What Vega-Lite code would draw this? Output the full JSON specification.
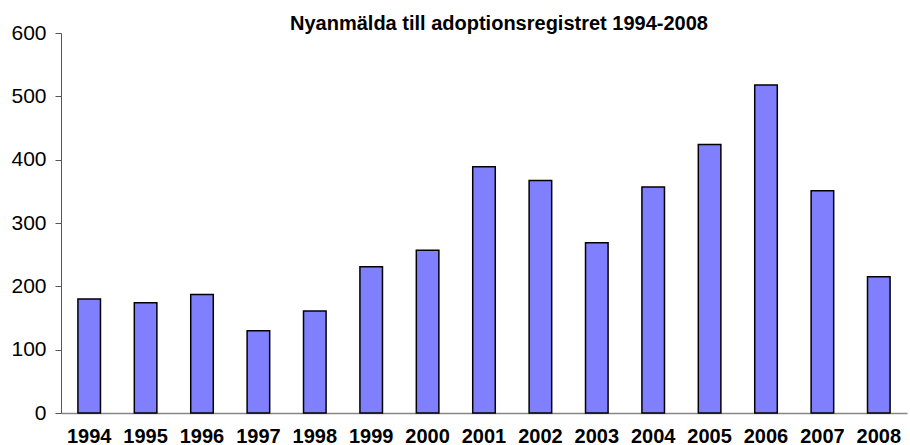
{
  "$schema": "https://vega.github.io/schema/vega-lite/v6.json",
  "width": 846,
  "height": 380,
  "autosize": "none",
  "padding": {"left": 61, "top": 33, "right": 3, "bottom": 32},
  "background": "white",
  "title": {
    "text": "Nyanmälda till adoptionsregistret 1994-2008",
    "font": "Liberation Sans",
    "fontSize": 20,
    "fontWeight": "bold",
    "color": "black",
    "anchor": "middle",
    "baseline": "alphabetic",
    "offset": -28,
    "dx": 15
  },
  "data": {
    "values": [
      {"year": "1994", "count": 180},
      {"year": "1995", "count": 174},
      {"year": "1996", "count": 187},
      {"year": "1997", "count": 130},
      {"year": "1998", "count": 161},
      {"year": "1999", "count": 231},
      {"year": "2000", "count": 257},
      {"year": "2001", "count": 389},
      {"year": "2002", "count": 367},
      {"year": "2003", "count": 269},
      {"year": "2004", "count": 357},
      {"year": "2005", "count": 424},
      {"year": "2006", "count": 518},
      {"year": "2007", "count": 351},
      {"year": "2008", "count": 215}
    ]
  },
  "mark": {"type": "bar", "fill": "#8080FF", "stroke": "black", "strokeWidth": 1.5},
  "encoding": {
    "x": {
      "field": "year",
      "type": "ordinal",
      "sort": null,
      "scale": {"paddingInner": 0.6, "paddingOuter": 0.3},
      "axis": {
        "title": null,
        "labelAngle": 0,
        "labelFont": "Liberation Sans",
        "labelFontSize": 20,
        "labelFontWeight": "bold",
        "labelColor": "black",
        "labelPadding": 13,
        "ticks": false,
        "tickSize": 0,
        "domainColor": "#888888",
        "domainWidth": 1.5,
        "grid": false
      }
    },
    "y": {
      "field": "count",
      "type": "quantitative",
      "scale": {"domain": [0, 600], "nice": false},
      "axis": {
        "title": null,
        "values": [0, 100, 200, 300, 400, 500, 600],
        "labelFont": "Liberation Sans",
        "labelFontSize": 21,
        "labelColor": "black",
        "labelPadding": 9,
        "tickSize": 6,
        "tickColor": "#555555",
        "domainColor": "#555555",
        "grid": false
      }
    }
  },
  "config": {"view": {"stroke": null}}
}
